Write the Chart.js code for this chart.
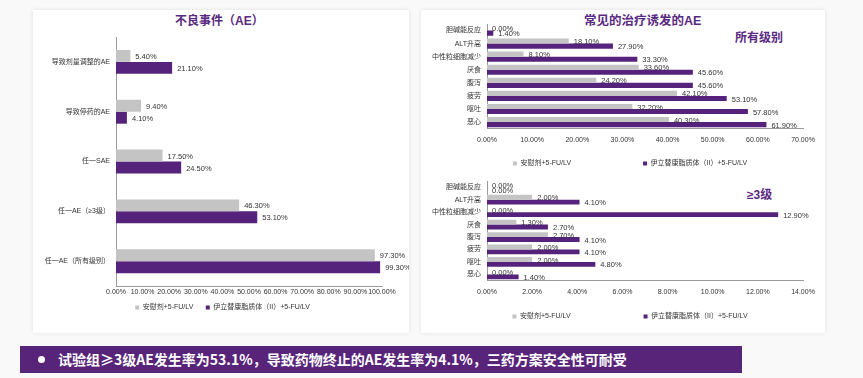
<!DOCTYPE html>
<html><head><meta charset="utf-8">
<script src="https://cdn.jsdelivr.net/npm/chart.js@4.4.1/dist/chart.umd.min.js"></script>
<style>
html,body{margin:0;padding:0;}
body{width:863px;height:378px;background:#f9f9fa;position:relative;overflow:hidden;font-family:"Liberation Sans","Noto Sans CJK SC",sans-serif;}
.card{position:absolute;background:#fff;box-shadow:0 0 4px rgba(0,0,0,0.10);}
.title{position:absolute;color:#5a2a82;font-weight:bold;font-family:"Liberation Sans","Noto Sans CJK SC",sans-serif;white-space:nowrap;line-height:1;}
.cv{position:absolute;}
.banner{position:absolute;left:20px;top:346px;width:722px;height:27px;background:#58247a;color:#fff;font-weight:bold;font-size:14px;font-family:"Noto Sans CJK SC",sans-serif;line-height:27px;white-space:nowrap;}
.banner .dot{position:absolute;left:18px;top:10px;width:7px;height:7px;border-radius:50%;background:#fff;}
.banner .txt{position:absolute;left:38px;top:0;}
</style></head>
<body>
<div class="card" style="left:33px;top:10px;width:376px;height:323px;"></div>
<div class="card" style="left:421px;top:10px;width:404px;height:323px;"></div>
<div class="title" style="left:175px;top:15px;font-size:12px;">不良事件（AE）</div>
<div class="title" style="left:584px;top:15px;font-size:12.5px;">常见的治疗诱发的AE</div>
<div class="title" style="left:735px;top:32px;font-size:12px;">所有级别</div>
<div class="title" style="left:747px;top:189px;font-size:12px;">≥3级</div>
<div class="cv" style="left:33px;top:30px;width:376px;height:291px;"><canvas id="c1"></canvas></div>
<div class="cv" style="left:421px;top:18px;width:404px;height:159px;"><canvas id="c2"></canvas></div>
<div class="cv" style="left:421px;top:176px;width:404px;height:154px;"><canvas id="c3"></canvas></div>
<div class="banner"><div class="dot"></div><div class="txt">试验组≥3级AE发生率为53.1%，导致药物终止的AE发生率为4.1%，三药方案安全性可耐受</div></div>
<script>
// ---- data ----
const seriesNames = ['安慰剂+5-FU/LV', '伊立替康脂质体（II）+5-FU/LV'];

const aeCategories = ['导致剂量调整的AE', '导致停药的AE', '任一SAE', '任一AE（≥3级）', '任一AE（所有级别）'];
const aePlacebo = [5.4, 9.4, 17.5, 46.3, 97.3];
const aeNal = [21.1, 4.1, 24.5, 53.1, 99.3];

const teaeCategories = ['胆碱能反应', 'ALT升高', '中性粒细胞减少', '厌食', '腹泻', '疲劳', '呕吐', '恶心'];
const allPlacebo = [0.0, 18.1, 8.1, 33.6, 24.2, 42.1, 32.2, 40.3];
const allNal = [1.4, 27.9, 33.3, 45.6, 45.6, 53.1, 57.8, 61.9];
const g3Placebo = [0.0, 2.0, 0.0, 1.3, 2.7, 2.0, 2.0, 0.0];
const g3Nal = [0.0, 4.1, 12.9, 2.7, 4.1, 4.1, 4.8, 1.4];

const axis1 = {min: 0, max: 100, step: 10};
const axis2 = {min: 0, max: 70, step: 10};
const axis3 = {min: 0, max: 14, step: 2};

// ---- styles ----
const GRAY = '#c4c4c4';
const PURPLE = '#55237b';
const TXT = '#333333';
const FONT = '"Liberation Sans","Noto Sans CJK SC",sans-serif';

const valueLabels = {
  id: 'valueLabels',
  afterDatasetsDraw(chart) {
    const ctx = chart.ctx;
    ctx.save();
    ctx.font = '7.5px ' + FONT;
    ctx.fillStyle = TXT;
    ctx.textBaseline = 'middle';
    ctx.textAlign = 'left';
    chart.data.datasets.forEach((ds, i) => {
      const meta = chart.getDatasetMeta(i);
      meta.data.forEach((el, j) => {
        ctx.fillText(ds.data[j].toFixed(2) + '%', el.x + 5, el.y + 1);
      });
    });
    ctx.restore();
  }
};

const legendShift = {
  id: 'legendShift',
  afterLayout(chart, args, opts) {
    const lg = chart.legend;
    if (!lg || !opts.dx) return;
    lg.left += opts.dx;
    lg.right += opts.dx;
    if (lg.adjustHitBoxes) lg.adjustHitBoxes();
  }
};

function makeChart(id, cats, a, b, ax, yWidth, pad, catPct, legendGap, spacer, dx, tickPad) {
  return new Chart(document.getElementById(id), {
    type: 'bar',
    data: {
      labels: cats,
      datasets: [
        {label: seriesNames[0], data: a, backgroundColor: GRAY, borderWidth: 0},
        {label: seriesNames[1], data: b, backgroundColor: PURPLE, borderWidth: 0}
      ]
    },
    options: {
      indexAxis: 'y',
      responsive: true,
      maintainAspectRatio: false,
      animation: false,
      layout: {padding: pad},
      datasets: {bar: {categoryPercentage: catPct, barPercentage: 1.0}},
      scales: {
        x: {
          min: ax.min, max: ax.max,
          grid: {display: false, drawTicks: false},
          border: {display: true, color: '#9a9a9a', width: 1},
          ticks: {stepSize: ax.step, autoSkip: false, maxRotation: 0, padding: tickPad,
                  color: TXT, font: {size: 7, family: FONT},
                  callback: v => v.toFixed(2) + '%'}
        },
        y: {
          grid: {display: false, drawTicks: true, tickLength: 6},
          border: {display: true, color: '#9a9a9a', width: 1},
          ticks: {autoSkip: false, color: TXT, font: {size: 7, family: FONT}, padding: 0},
          afterFit(s) { s.width = yWidth; }
        }
      },
      plugins: {
        legendShift: {dx: dx},
        legend: {
          position: 'bottom',
          labels: {boxWidth: 4, boxHeight: 4, padding: legendGap, color: TXT,
                   font: {size: 7, family: FONT},
                   generateLabels(chart) {
                     const items = Chart.defaults.plugins.legend.labels.generateLabels(chart);
                     items[0].text = items[0].text + spacer;
                     return items;
                   }}
        },
        tooltip: {enabled: false}
      }
    },
    plugins: [valueLabels, legendShift]
  });
}

const wide = '\u3000\u3000\u3000\u3000\u3000\u3000\u3000\u3000\u3000';
makeChart('c1', aeCategories, aePlacebo, aeNal, axis1, 83, {top: 7, right: 27, left: 0, bottom: 0}, 0.48, 5.5, '\u3000', 15, 2);
makeChart('c2', teaeCategories, allPlacebo, allNal, axis2, 66, {top: 6, right: 22, left: 0, bottom: 0}, 0.78, 9, wide, 18, 7);
makeChart('c3', teaeCategories, g3Placebo, g3Nal, axis3, 66, {top: 5, right: 22, left: 0, bottom: 0}, 0.78, 10, wide, 18, 7);
</script>
</body></html>
